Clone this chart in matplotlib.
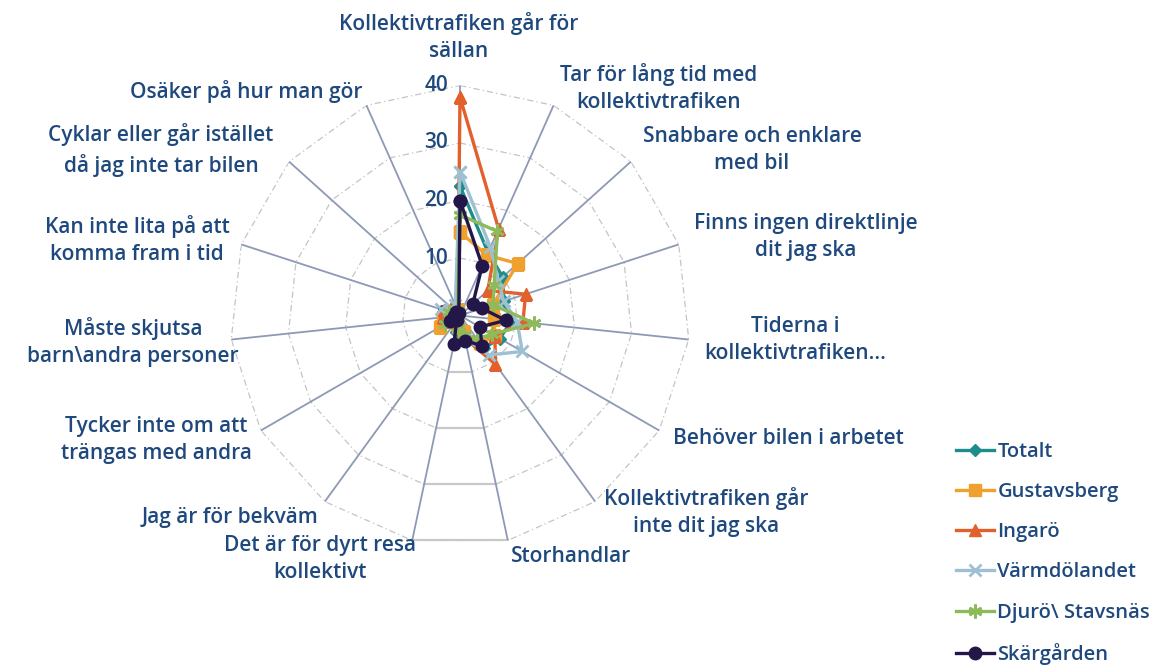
import numpy as np
import matplotlib.pyplot as plt

plt.rcParams['font.family'] = ['Open Sans', 'DejaVu Sans']

kategorier = [
    "Kollektivtrafiken går för\nsällan",
    "Tar för lång tid med\nkollektivtrafiken",
    "Snabbare och enklare\nmed bil",
    "Finns ingen direktlinje\ndit jag ska",
    "Tiderna i\nkollektivtrafiken…",
    "Behöver bilen i arbetet",
    "Kollektivtrafiken går\ninte dit jag ska",
    "Storhandlar",
    "Det är för dyrt resa\nkollektivt",
    "Jag är för bekväm",
    "Tycker inte om att\nträngas med andra",
    "Måste skjutsa\nbarn\\andra personer",
    "Kan inte lita på att\nkomma fram i tid",
    "Cyklar eller går istället\ndå jag inte tar bilen",
    "Osäker på hur man gör",
]

totalt = [22.5, 12, 10, 8, 9, 8, 7, 4, 3, 1.5, 2, 2, 2, 1.5, 1]
gustavsberg = [14.5, 11.5, 13.5, 6, 6, 7, 6, 3, 2, 1.5, 4, 3, 2, 1, 1]
ingaro = [38, 16.5, 6.5, 12, 11, 7, 10.5, 4, 2, 1, 2, 3, 3, 2, 1]
varmdolandet = [25, 13, 9, 8, 10, 12.5, 8.5, 4, 2, 1, 2, 2, 3.5, 2, 2]
djuro = [17.5, 16, 8, 6, 13, 6.5, 5, 3.5, 2, 1, 3, 2, 2, 1, 1]
skargarden = [20, 9.5, 3, 4, 8, 4, 6.5, 4.5, 5, 1, 2, 1, 0.5, 1, 0.5]

serier = ["Totalt", "Gustavsberg", "Ingarö", "Värmdölandet", "Djurö\\ Stavsnäs", "Skärgården"]
ticks = [0, 10, 20, 30, 40]

# stil
farger = ["#1E8C8A", "#EFA02F", "#E2602C", "#9DC0D2", "#8DBA5A", "#23174A"]
markorer = ["D", "s", "^", "x", (6, 2, 0), "o"]
msizes = [6, 8, 9, 9, 10, 9]
textfarg = "#1F497D"
fs = 15

# etikettpositioner i pixlar (x, y uppifrån)
etikett_pos = [(459, 37), (659, 88), (752, 150), (806, 237), (795, 340), (788, 438),
               (706, 512), (571, 557), (320, 559), (230, 518), (156, 440), (133, 342),
               (137, 240), (161, 150), (246, 92)]

W, H = 1155, 667
fig = plt.figure(figsize=(W / 100, H / 100), dpi=100)
cx, cy, rad = 460, 315.5, 230
ax = fig.add_axes([(cx - rad) / W, 1 - (cy + rad) / H, 2 * rad / W, 2 * rad / H], projection="polar")
ax.set_theta_zero_location("N")
ax.set_theta_direction(-1)
ax.set_ylim(0, 40)
ax.set_axis_off()

n = len(kategorier)
vinklar = np.linspace(0, 2 * np.pi, n, endpoint=False)
vink_slut = np.append(vinklar, vinklar[0])

# rutnät (polygoner)
for r in ticks[1:]:
    ax.plot(vink_slut, [r] * (n + 1), color="#C4C4C4", lw=0.9, ls=(0, (5, 2.5, 1, 2.5)), zorder=1)
    ax.plot(vinklar[7:9], [r, r], color="#C8C8C8", lw=1.6, zorder=1)

# ekrar
for v in vinklar:
    ax.plot([v, v], [0, 40], color="#8D99B5", lw=1.3, zorder=2)

for r in ticks:
    ax.annotate(str(r), xy=(0, r), xytext=(-12, 0), textcoords="offset pixels",
                ha="right", va="center", color=textfarg, fontsize=fs, fontweight="semibold")

data = [totalt, gustavsberg, ingaro, varmdolandet, djuro, skargarden]
for i, vals in enumerate(data):
    v = np.append(vals, vals[0])
    ax.plot(vink_slut, v, color=farger[i], lw=2.4, marker=markorer[i], markersize=msizes[i],
            mew=2 if markorer[i] in ("x", (6, 2, 0)) else 1, label=serier[i], zorder=3 + i)

for txt, (px, py) in zip(kategorier, etikett_pos):
    fig.text(px / W, 1 - py / H, txt, ha="center", va="center", multialignment="center",
             color=textfarg, fontsize=fs, fontweight="semibold", linespacing=1.42)

fig.legend(loc="upper left", bbox_to_anchor=(948 / W, 1 - 434 / H), frameon=False,
           prop={"size": 14.5, "weight": "semibold"}, labelcolor=textfarg,
           handlelength=1.9, handletextpad=0.15, labelspacing=1.0, borderaxespad=0)

fig.savefig("out.png", dpi=100)
